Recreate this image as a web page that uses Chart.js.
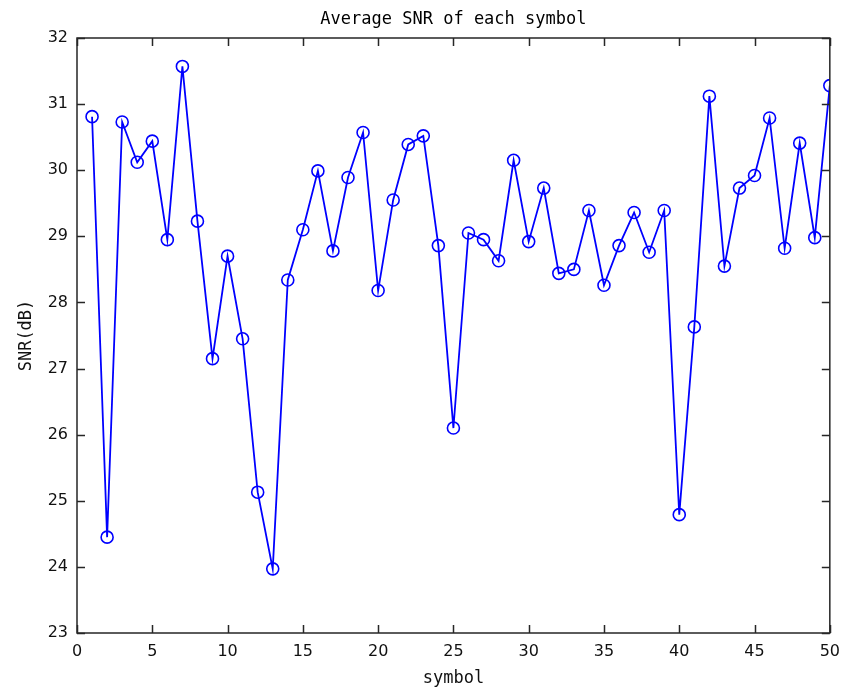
<!DOCTYPE html>
<html>
<head>
<meta charset="utf-8">
<title>Average SNR of each symbol</title>
<script src="https://cdn.jsdelivr.net/npm/chart.js@4/dist/chart.umd.min.js"></script>
<style>
  html, body { margin: 0; padding: 0; background: #fff; }
  #wrap { width: 849px; height: 689px; }
</style>
</head>
<body>
<div id="wrap"><canvas id="snrChart" width="849" height="689"></canvas></div>
<script>
// ── Data ──────────────────────────────────────────────────────────────
const symbols = [
   1,  2,  3,  4,  5,  6,  7,  8,  9, 10,
  11, 12, 13, 14, 15, 16, 17, 18, 19, 20,
  21, 22, 23, 24, 25, 26, 27, 28, 29, 30,
  31, 32, 33, 34, 35, 36, 37, 38, 39, 40,
  41, 42, 43, 44, 45, 46, 47, 48, 49, 50
];
const snrDb = [
  30.81, 24.45, 30.73, 30.12, 30.44, 28.95, 31.57, 29.23, 27.15, 28.70,
  27.45, 25.13, 23.97, 28.34, 29.10, 29.99, 28.78, 29.89, 30.57, 28.18,
  29.55, 30.39, 30.52, 28.86, 26.10, 29.05, 28.95, 28.63, 30.15, 28.92,
  29.73, 28.44, 28.50, 29.39, 28.26, 28.86, 29.36, 28.76, 29.39, 24.79,
  27.63, 31.12, 28.55, 29.73, 29.92, 30.79, 28.82, 30.41, 28.98, 31.28
];
const xTicks = [0, 5, 10, 15, 20, 25, 30, 35, 40, 45, 50];
const yTicks = [23, 24, 25, 26, 27, 28, 29, 30, 31, 32];

const TITLE  = 'Average SNR of each symbol';
const XLABEL = 'symbol';
const YLABEL = 'SNR(dB)';

const AXIS_COLOR = '#262626';
const LINE_COLOR = '#0000ff';
const MONO = '"DejaVu Sans Mono", monospace';

// ── Box frame, inward tick marks and the title ───────────────────────
const frame = {
  id: 'frame',
  afterDraw(chart) {
    const { ctx, chartArea: a, scales: { x, y } } = chart;
    const len = 8;
    ctx.save();
    ctx.strokeStyle = AXIS_COLOR;
    ctx.lineWidth = 1.5;
    ctx.strokeRect(a.left, a.top, a.right - a.left, a.bottom - a.top);

    ctx.beginPath();
    for (const v of xTicks) {
      const px = Math.round(x.getPixelForValue(v)) + 0.5;
      ctx.moveTo(px, a.bottom); ctx.lineTo(px, a.bottom - len);
      ctx.moveTo(px, a.top);    ctx.lineTo(px, a.top + len);
    }
    for (const v of yTicks) {
      const py = Math.round(y.getPixelForValue(v)) + 0.5;
      ctx.moveTo(a.left, py);  ctx.lineTo(a.left + len, py);
      ctx.moveTo(a.right, py); ctx.lineTo(a.right - len, py);
    }
    ctx.stroke();

    // title centred over the plot box
    ctx.fillStyle = '#000';
    ctx.font = '17px ' + MONO;
    ctx.textAlign = 'center';
    ctx.textBaseline = 'middle';
    ctx.fillText(TITLE, (a.left + a.right) / 2, 20);
    ctx.restore();
  }
};

// ── Chart ────────────────────────────────────────────────────────────
new Chart(document.getElementById('snrChart'), {
  type: 'line',
  data: {
    datasets: [{
      data: symbols.map((s, i) => ({ x: s, y: snrDb[i] })),
      borderColor: LINE_COLOR,
      borderWidth: 1.8,
      pointRadius: 6,
      pointBorderWidth: 1.6,
      pointBorderColor: LINE_COLOR,
      pointBackgroundColor: 'rgba(0,0,0,0)',
      tension: 0,
      fill: false,
    }]
  },
  options: {
    responsive: false,
    animation: false,
    devicePixelRatio: 1,
    layout: { padding: { top: 38, right: 19, left: 0, bottom: 0 } },
    plugins: {
      legend: { display: false },
      tooltip: { enabled: false },
      title: { display: false },
    },
    scales: {
      x: {
        type: 'linear',
        min: 0, max: 50,
        afterBuildTicks: s => { s.ticks = xTicks.map(v => ({ value: v })); },
        afterFit: s => { s.height = 56; },
        grid: { display: false, drawTicks: false },
        border: { display: false },
        ticks: {
          color: '#111',
          padding: 9,
          maxRotation: 0,
          font: { family: '"DejaVu Sans", sans-serif', size: 16 },
        },
        title: {
          display: true,
          text: XLABEL,
          color: '#111',
          padding: { top: 0, bottom: 0 },
          font: { family: MONO, size: 17 },
        }
      },
      y: {
        min: 23, max: 32,
        afterBuildTicks: s => { s.ticks = yTicks.map(v => ({ value: v })); },
        afterFit: s => { s.width = 77; },
        grid: { display: false, drawTicks: false },
        border: { display: false },
        ticks: {
          color: '#111',
          padding: 9,
          font: { family: '"DejaVu Sans", sans-serif', size: 16 },
        },
        title: {
          display: true,
          text: YLABEL,
          color: '#111',
          padding: { top: 16, bottom: 0 },
          font: { family: MONO, size: 17 },
        }
      }
    }
  },
  plugins: [frame]
});
</script>
</body>
</html>
